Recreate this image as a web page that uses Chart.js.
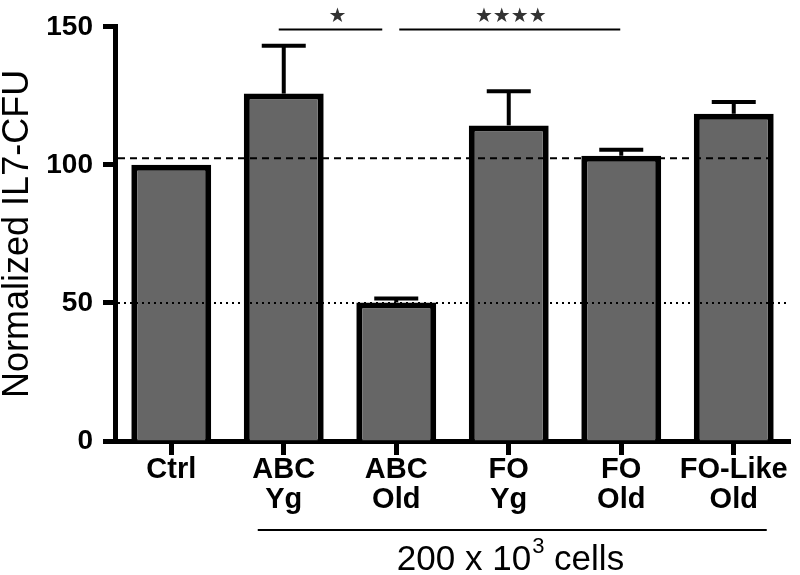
<!DOCTYPE html>
<html>
<head>
<meta charset="utf-8">
<script src="https://cdn.jsdelivr.net/npm/chart.js@4"></script>
<style>
  html, body { margin: 0; padding: 0; background: #fff; }
  #wrap { width: 800px; height: 575px; }
</style>
</head>
<body>
<div id="wrap"><canvas id="c" width="800" height="575"></canvas></div>
<script>
// ---- data ----
const categories = [["Ctrl"], ["ABC", "Yg"], ["ABC", "Old"], ["FO", "Yg"], ["FO", "Old"], ["FO-Like", "Old"]];
const means = [100, 125.8, 50.2, 114.3, 103.3, 118.5];
const upperErrors = [null, 143.1, 51.6, 126.7, 105.5, 122.8];
const yTicks = [0, 50, 100, 150];
const dashedRef = 102.4;
const dottedRef = 50;
const sigLevel = 149;
const sigFrom = [1, 2];
const sigTo = [2, 4];
const sigLabels = ["★", "★★★★"];
const groupFrom = 1, groupTo = 5;
const yTitle = "Normalized IL7-CFU";
const xTitleParts = ["200 x 10", "3", " cells"];

const FONT = "'Liberation Sans', Arial, Helvetica, sans-serif";

const overlay = {
  id: 'overlay',
  afterDatasetsDraw(chart) {
    const { ctx, chartArea, scales: { x, y } } = chart;
    ctx.save();
    // reference lines
    ctx.strokeStyle = '#000';
    ctx.lineWidth = 2;
    ctx.setLineDash([7, 5]);
    let py = y.getPixelForValue(dashedRef);
    ctx.beginPath(); ctx.moveTo(chartArea.left + 3, py); ctx.lineTo(x.getPixelForValue(5) + 36, py); ctx.stroke();
    ctx.setLineDash([2, 4]);
    py = y.getPixelForValue(dottedRef);
    ctx.beginPath(); ctx.moveTo(chartArea.left + 3, py); ctx.lineTo(chartArea.right, py); ctx.stroke();
    ctx.setLineDash([]);

    // error bars (upper only)
    ctx.lineWidth = 4;
    ctx.lineCap = 'butt';
    upperErrors.forEach((e, i) => {
      if (e == null) return;
      const px = x.getPixelForValue(i);
      const y0 = y.getPixelForValue(means[i]);
      const y1 = y.getPixelForValue(e);
      ctx.beginPath(); ctx.moveTo(px, y0); ctx.lineTo(px, y1); ctx.stroke();
      ctx.beginPath(); ctx.moveTo(px - 22, y1); ctx.lineTo(px + 22, y1); ctx.stroke();
    });

    // significance bars
    const insets = [[-5, -14], [3, -1]];
    const labelShift = [7, 1];
    ctx.lineWidth = 2;
    const sy = y.getPixelForValue(sigLevel);
    sigFrom.forEach((f, k) => {
      const x1 = x.getPixelForValue(f) + insets[k][0];
      const x2 = x.getPixelForValue(sigTo[k]) + insets[k][1];
      ctx.beginPath(); ctx.moveTo(x1, sy); ctx.lineTo(x2, sy); ctx.stroke();
      ctx.fillStyle = '#333';
      ctx.font = "20px 'DejaVu Sans', sans-serif";
      ctx.textAlign = 'center';
      ctx.textBaseline = 'middle';
      ctx.fillText(sigLabels[k], (x1 + x2) / 2 + labelShift[k], sy - 13);
    });

    // group line + x title
    const gy = chartArea.bottom + 89;
    ctx.lineWidth = 2;
    ctx.beginPath();
    ctx.moveTo(x.getPixelForValue(groupFrom) - 26, gy);
    ctx.lineTo(x.getPixelForValue(groupTo) + 33, gy);
    ctx.stroke();

    ctx.fillStyle = '#000';
    ctx.textAlign = 'left';
    ctx.textBaseline = 'alphabetic';
    const big = "35px " + FONT, small = "22px " + FONT;
    ctx.font = big; const w0 = ctx.measureText(xTitleParts[0]).width;
    ctx.font = small; const w1 = ctx.measureText(xTitleParts[1]).width;
    ctx.font = big; const w2 = ctx.measureText(xTitleParts[2]).width;
    const total = w0 + w1 + w2;
    let tx = 510 - total / 2;
    const base = chartArea.bottom + 129;
    ctx.font = big; ctx.fillText(xTitleParts[0], tx, base); tx += w0;
    ctx.font = small; ctx.fillText(xTitleParts[1], tx + 1, base - 17); tx += w1 + 1;
    ctx.font = big; ctx.fillText(xTitleParts[2], tx, base);
    ctx.restore();
  }
};

new Chart(document.getElementById('c'), {
  type: 'bar',
  data: {
    labels: categories,
    datasets: [{
      data: means,
      backgroundColor: '#666666',
      borderColor: '#000',
      borderWidth: 6,
      categoryPercentage: 1.0,
      barPercentage: 0.71
    }]
  },
  options: {
    responsive: false,
    animation: false,
    events: [],
    layout: { padding: { top: 22, right: 10, bottom: 0, left: 0 } },
    plugins: { legend: { display: false }, tooltip: { enabled: false } },
    scales: {
      x: {
        z: 1,
        offset: true,
        grid: { display: true, drawOnChartArea: false, offset: false, tickLength: 14, tickWidth: 5, tickColor: '#000' },
        border: { display: true, color: '#000', width: 5 },
        ticks: { color: '#000', padding: 0, maxRotation: 0, autoSkip: false, font: { family: FONT, size: 29, weight: 'bold', lineHeight: '30px' } },
        afterFit(scale) { scale.height = 134; }
      },
      y: {
        min: 0, max: 150,
        afterBuildTicks(scale) { scale.ticks = yTicks.map(v => ({ value: v })); },
        grid: { display: true, drawOnChartArea: false, tickLength: 12, tickWidth: 5, tickColor: '#000' },
        border: { display: true, color: '#000', width: 5 },
        ticks: { color: '#000', padding: 10, font: { family: FONT, size: 28, weight: 'bold' } },
        title: { display: true, text: yTitle, color: '#000', padding: { top: 0, bottom: 0 }, font: { family: FONT, size: 36, lineHeight: 1 } },
        afterFit(scale) { scale.width = 115; }
      }
    }
  },
  plugins: [overlay]
});
</script>
</body>
</html>
